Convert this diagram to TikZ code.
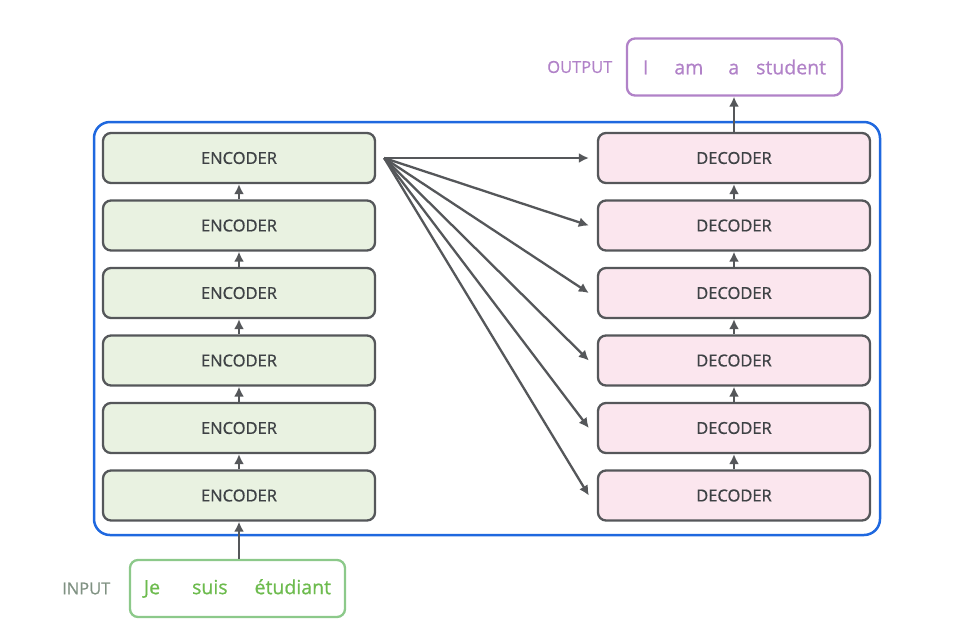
\documentclass[tikz,border=0pt]{standalone}
\usepackage{fontspec}
\setmainfont{Open Sans}
\newfontfamily\medfont[FakeBold=0.8]{Open Sans}
\usetikzlibrary{arrows.meta,positioning}
\definecolor{encfill}{HTML}{E9F2E1}
\definecolor{decfill}{HTML}{FBE6EE}
\definecolor{boxline}{HTML}{55575A}
\definecolor{boxtext}{HTML}{3E4245}
\definecolor{frameblue}{HTML}{1F68DF}
\definecolor{outpurple}{HTML}{B182C8}
\definecolor{ingreen}{HTML}{8CC98A}
\definecolor{intext}{HTML}{6DBB4E}
\definecolor{inlabel}{HTML}{7F9182}

\begin{document}
\begin{tikzpicture}[x=1pt,y=-1pt]
  \tikzset{layer/.style = {draw=boxline, line width=2.3pt, rounded corners=8pt,
                           minimum width=272pt, minimum height=50pt,
                           text=boxtext, font=\medfont\fontsize{16.5}{19}\selectfont},
           enc/.style   = {layer, fill=encfill},
           dec/.style   = {layer, fill=decfill},
           sentence/.style = {line width=2.3pt, rounded corners=8pt,
                              minimum width=215pt, minimum height=57pt,
                              font=\medfont\fontsize{19.5}{22}\selectfont},
           tag/.style   = {font=\medfont\fontsize{16.5}{19}\selectfont},
           link/.style  = {-{Latex[length=10pt,width=10pt]}, draw=boxline, line width=2.3pt},
           node distance = 15.2pt}
  \useasboundingbox (0,0) rectangle (970,633);
  \draw[frameblue, line width=2.5pt, rounded corners=16pt] (94,122) rectangle (880,535);

  \node[enc] (E1) at (239,158) {ENCODER};
  \node[enc, below=of E1] (E2) {ENCODER};
  \node[enc, below=of E2] (E3) {ENCODER};
  \node[enc, below=of E3] (E4) {ENCODER};
  \node[enc, below=of E4] (E5) {ENCODER};
  \node[enc, below=of E5] (E6) {ENCODER};

  \node[dec] (D1) at (734,158) {DECODER};
  \node[dec, below=of D1] (D2) {DECODER};
  \node[dec, below=of D2] (D3) {DECODER};
  \node[dec, below=of D3] (D4) {DECODER};
  \node[dec, below=of D4] (D5) {DECODER};
  \node[dec, below=of D5] (D6) {DECODER};

  \node[sentence, draw=ingreen, text=intext] (In) at (237.5,588.5)
    {Je\hspace{32pt}suis\hspace{27pt}étudiant};
  \node[tag, text=inlabel, left=15pt of In] (InTag) {INPUT};
  \node[sentence, draw=outpurple, text=outpurple] (Out) at (734.5,67)
    {I\hspace{26pt}am\hspace{25pt}a\hspace{17pt}student};
  \node[tag, text=outpurple, left=10pt of Out] (OutTag) {OUTPUT};

  \draw[link] (E6) -- (E5);
  \draw[link] (E5) -- (E4);
  \draw[link] (E4) -- (E3);
  \draw[link] (E3) -- (E2);
  \draw[link] (E2) -- (E1);
  \draw[link] (D6) -- (D5);
  \draw[link] (D5) -- (D4);
  \draw[link] (D4) -- (D3);
  \draw[link] (D3) -- (D2);
  \draw[link] (D2) -- (D1);
  \draw[link] (In.north -| E6.south) -- (E6.south);
  \draw[link] (D1.north) -- (D1.north |- Out.south);

  \coordinate (fan) at ([xshift=8pt]E1.east);
  \foreach \d in {D1,D2,D3,D4,D5,D6}
    \draw[link] (fan) -- ([xshift=-8pt]\d.west);
\end{tikzpicture}
\end{document}
